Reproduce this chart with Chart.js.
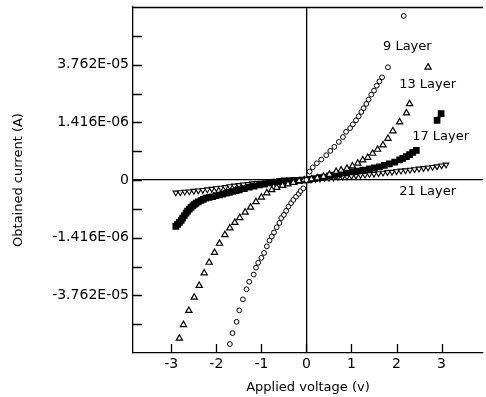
<!DOCTYPE html>
<html>
<head>
<meta charset="utf-8">
<script src="https://cdn.jsdelivr.net/npm/chart.js@4"></script>
<style>
  html, body { margin: 0; padding: 0; background: #fff; }
  #wrap { width: 486px; height: 397px; }
</style>
</head>
<body>
<div id="wrap"><canvas id="ivChart" width="486" height="397"></canvas></div>
<script>
// values; current is given as position on the (non-linear) current axis
const seriesNames = ["9 Layer", "13 Layer", "17 Layer", "21 Layer"];

const layer9V = [-1.70, -1.64, -1.55, -1.49, -1.41, -1.33, -1.27, -1.17, -1.12, -1.07, -1.00, -0.94, -0.88, -0.82, -0.77,
  -0.72, -0.66, -0.60, -0.56, -0.50, -0.45, -0.40, -0.34, -0.29, -0.23, -0.17, -0.13, -0.07, 0.00, 0.07, 0.14, 0.23,
  0.33, 0.44, 0.53, 0.62, 0.72, 0.81, 0.88, 0.97, 1.03, 1.10, 1.16, 1.22, 1.27, 1.33, 1.38, 1.44, 1.50, 1.56, 1.62,
  1.68, 1.81, 2.16];
const layer9I = [-5.69, -5.31, -4.92, -4.52, -4.14, -3.79, -3.53, -3.28, -3.04, -2.87, -2.70, -2.53, -2.30, -2.10, -1.96,
  -1.82, -1.64, -1.49, -1.32, -1.21, -1.07, -0.92, -0.80, -0.69, -0.58, -0.48, -0.38, -0.29, 0.00, 0.29, 0.44, 0.58,
  0.71, 0.86, 1.01, 1.15, 1.32, 1.49, 1.67, 1.80, 1.93, 2.07, 2.21, 2.36, 2.49, 2.64, 2.79, 2.96, 3.10, 3.27, 3.42,
  3.56, 3.91, 5.69];

const layer13V = [-2.82, -2.73, -2.61, -2.49, -2.38, -2.27, -2.16, -2.04, -1.93, -1.81, -1.70, -1.59, -1.48, -1.36, -1.24,
  -1.12, -1.00, -0.88, -0.77, -0.66, -0.53, -0.41, -0.29, -0.16, -0.05, 0.11, 0.24, 0.38, 0.51, 0.66, 0.77, 0.90, 1.02,
  1.14, 1.25, 1.36, 1.47, 1.58, 1.70, 1.81, 1.92, 2.07, 2.22, 2.29, 2.70];
const layer13I = [-5.49, -5.02, -4.53, -4.07, -3.66, -3.23, -2.86, -2.52, -2.20, -1.90, -1.67, -1.48, -1.31, -1.12, -0.95,
  -0.76, -0.60, -0.45, -0.34, -0.26, -0.19, -0.14, -0.09, -0.03, 0.00, 0.03, 0.07, 0.12, 0.19, 0.29, 0.34, 0.40, 0.48,
  0.58, 0.69, 0.78, 0.92, 1.06, 1.21, 1.44, 1.70, 2.01, 2.32, 2.64, 3.91];

// null splits off the two last points, which stand apart from the curve
const layer17V = [-2.90, -2.86, -2.82, -2.78, -2.75, -2.71, -2.67, -2.64, -2.60, -2.56, -2.52, -2.49, -2.45, -2.40, -2.34,
  -2.29, -2.23, -2.16, -2.08, -2.01, -1.93, -1.86, -1.78, -1.71, -1.64, -1.56, -1.49, -1.38, -1.27, -1.16, -1.04, -0.93,
  -0.82, -0.71, -0.60, -0.49, -0.38, -0.27, -0.16, -0.07, 0.00, 0.07, 0.18, 0.29, 0.40, 0.51, 0.62, 0.73, 0.88, 1.02,
  1.13, 1.25, 1.40, 1.51, 1.62, 1.73, 1.84, 1.96, 2.07, 2.14, 2.22, 2.29, 2.36, 2.44, 2.70, 2.90, 2.99];
const layer17I = [-1.61, -1.54, -1.47, -1.40, -1.32, -1.23, -1.15, -1.08, -1.01, -0.95, -0.90, -0.85, -0.80, -0.76, -0.71,
  -0.67, -0.63, -0.60, -0.58, -0.54, -0.52, -0.49, -0.46, -0.43, -0.40, -0.37, -0.34, -0.30, -0.25, -0.21, -0.17, -0.14,
  -0.10, -0.07, -0.05, -0.03, -0.02, -0.01, -0.01, 0.00, 0.00, 0.02, 0.05, 0.08, 0.10, 0.14, 0.17, 0.21, 0.25, 0.28,
  0.31, 0.34, 0.39, 0.42, 0.46, 0.51, 0.56, 0.62, 0.70, 0.75, 0.81, 0.88, 0.96, 1.03, null, 2.07, 2.30];

const layer21V = [-2.9, -2.8, -2.7, -2.6, -2.5, -2.4, -2.3, -2.2, -2.1, -2.0, -1.9, -1.8, -1.7, -1.6, -1.5, -1.4, -1.3,
  -1.2, -1.1, -1.0, -0.9, -0.8, -0.7, -0.6, -0.5, -0.4, -0.3, -0.2, -0.1, 0.0, 0.1, 0.2, 0.3, 0.4, 0.5, 0.6, 0.7, 0.8,
  0.9, 1.0, 1.1, 1.2, 1.3, 1.4, 1.5, 1.6, 1.7, 1.8, 1.9, 2.0, 2.1, 2.2, 2.3, 2.4, 2.5, 2.6, 2.7, 2.8, 2.9, 3.0, 3.1];
const layer21I = [-0.44, -0.43, -0.41, -0.40, -0.38, -0.37, -0.35, -0.33, -0.31, -0.29, -0.27, -0.25, -0.22, -0.20,
  -0.18, -0.16, -0.14, -0.12, -0.11, -0.10, -0.09, -0.08, -0.07, -0.06, -0.05, -0.04, -0.03, -0.02, -0.01, 0.00, 0.01,
  0.03, 0.04, 0.06, 0.07, 0.08, 0.10, 0.11, 0.12, 0.14, 0.15, 0.17, 0.18, 0.20, 0.21, 0.23, 0.25, 0.27, 0.28, 0.30,
  0.32, 0.33, 0.35, 0.37, 0.39, 0.41, 0.43, 0.45, 0.47, 0.50, 0.53];

const xTickValues = [-3, -2, -1, 0, 1, 2, 3];
const yTickLabels = { "4": "3.762E-05", "2": "1.416E-06", "0": "0", "-2": "-1.416E-06", "-4": "-3.762E-05" };

// where the curve names sit (data coordinates)
const nameSpots = [[2.24, 4.61], [2.69, 3.30], [2.98, 1.49], [2.69, -0.42]];

const FONT = "'DejaVu Sans', sans-serif";

function toPoints(xs, ys) {
  return xs.map((v, i) => ({ x: v, y: ys[i] }));
}

const frameAndTicks = {
  id: "frameAndTicks",
  afterDraw(chart) {
    const { ctx, chartArea: a, scales: { x, y } } = chart;
    ctx.save();
    ctx.strokeStyle = "#000";
    ctx.lineWidth = 1.3;
    ctx.beginPath();
    ctx.moveTo(a.left, a.top + 0.5);
    ctx.lineTo(a.right, a.top + 0.5);
    y.ticks.forEach(t => {
      if (t.value <= y.min || t.value >= y.max) return;
      const py = Math.round(y.getPixelForValue(t.value)) + 0.5;
      ctx.moveTo(a.left, py);
      ctx.lineTo(a.left + 9, py);
    });
    x.ticks.forEach(t => {
      const px = Math.round(x.getPixelForValue(t.value)) + 0.5;
      ctx.moveTo(px, a.bottom);
      ctx.lineTo(px, a.bottom - 9);
    });
    ctx.stroke();

    // curve names on white boxes
    ctx.font = "13px " + FONT;
    ctx.textAlign = "center";
    ctx.textBaseline = "middle";
    seriesNames.forEach((name, i) => {
      const px = x.getPixelForValue(nameSpots[i][0]);
      const py = y.getPixelForValue(nameSpots[i][1]);
      const w = ctx.measureText(name).width;
      ctx.fillStyle = "#fff";
      ctx.fillRect(px - w / 2 - 2, py - 8, w + 4, 16);
      ctx.fillStyle = "#000";
      ctx.fillText(name, px, py);
    });
    ctx.restore();
  }
};

const axisLine = ctx => (ctx.tick && ctx.tick.value === 0 ? "#000" : "rgba(0,0,0,0)");

new Chart(document.getElementById("ivChart"), {
  type: "scatter",
  data: {
    datasets: [
      {
        label: seriesNames[0],
        data: toPoints(layer9V, layer9I),
        pointStyle: "circle",
        pointRadius: 2.4,
        borderColor: "#000",
        backgroundColor: "#fff",
        pointBorderWidth: 1
      },
      {
        label: seriesNames[1],
        data: toPoints(layer13V, layer13I),
        pointStyle: "triangle",
        pointRadius: 3.6,
        borderColor: "#000",
        backgroundColor: "#fff",
        pointBorderWidth: 1.2
      },
      {
        label: seriesNames[2],
        data: toPoints(layer17V, layer17I),
        pointStyle: "rect",
        pointRadius: 2.6,
        borderColor: "#000",
        backgroundColor: "#000",
        showLine: true,
        borderWidth: 3,
        spanGaps: false
      },
      {
        label: seriesNames[3],
        data: toPoints(layer21V, layer21I),
        pointStyle: "triangle",
        rotation: 180,
        pointRadius: 3.2,
        borderColor: "#000",
        backgroundColor: "#fff",
        pointBorderWidth: 1.1
      }
    ]
  },
  options: {
    responsive: false,
    animation: false,
    devicePixelRatio: 1,
    layout: { autoPadding: false, padding: { top: 7, right: 3, left: 0, bottom: 0 } },
    plugins: {
      legend: { display: false },
      tooltip: { enabled: false }
    },
    scales: {
      x: {
        type: "linear",
        min: -3.85,
        max: 3.92,
        afterBuildTicks: scale => { scale.ticks = xTickValues.map(v => ({ value: v })); },
        afterFit: scale => {
          scale.height = 44;
          scale.paddingLeft = 0;
          scale.paddingRight = 0;
        },
        grid: { drawTicks: false, color: axisLine, lineWidth: 1.3 },
        border: { display: true, color: "#000", width: 1.3 },
        ticks: { color: "#000", font: { family: FONT, size: 14 }, padding: 3, maxRotation: 0 },
        title: {
          display: true,
          text: "Applied voltage (v)",
          color: "#000",
          font: { family: FONT, size: 13 },
          padding: { top: 0, bottom: 2 }
        }
      },
      y: {
        type: "linear",
        min: -6,
        max: 6,
        afterBuildTicks: scale => {
          scale.ticks = [-6, -5, -4, -3, -2, -1, 0, 1, 2, 3, 4, 5, 6].map(v => ({ value: v }));
        },
        afterFit: scale => {
          scale.width = 133;
          scale.paddingTop = 0;
          scale.paddingBottom = 0;
        },
        grid: { drawTicks: false, color: axisLine, lineWidth: 1.3 },
        border: { display: true, color: "#000", width: 1.3 },
        ticks: {
          color: "#000",
          font: { family: FONT, size: 14 },
          padding: 4,
          autoSkip: false,
          callback: v => yTickLabels[String(v)] || ""
        },
        title: {
          display: true,
          text: "Obtained current (A)",
          color: "#000",
          font: { family: FONT, size: 13 },
          padding: { top: 11, bottom: 0 }
        }
      }
    }
  },
  plugins: [frameAndTicks]
});
</script>
</body>
</html>
